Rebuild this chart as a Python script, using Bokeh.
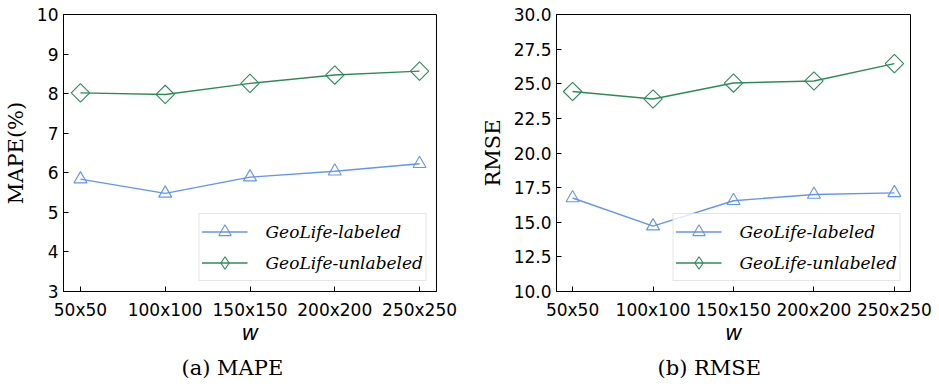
from bokeh.plotting import figure
from bokeh.models import Range1d, FixedTicker, PrintfTickFormatter, Legend, LegendItem, Title
from bokeh.layouts import row
from bokeh.embed import file_html
from bokeh.resources import INLINE
import math

categories = ["50x50", "100x100", "150x150", "200x200", "250x250"]
mape_labeled = [5.84, 5.48, 5.89, 6.04, 6.23]
mape_unlabeled = [8.02, 7.98, 8.26, 8.47, 8.57]
rmse_labeled = [16.75, 14.72, 16.55, 17.0, 17.12]
rmse_unlabeled = [24.44, 23.9, 25.05, 25.2, 26.45]
series_names = ["GeoLife-labeled", "GeoLife-unlabeled"]
mape_ticks = [3, 4, 5, 6, 7, 8, 9, 10]
rmse_ticks = [10.0, 12.5, 15.0, 17.5, 20.0, 22.5, 25.0, 27.5, 30.0]

BLUE = "#6495ED"
GREEN = "#2E8B57"
xs = list(range(len(categories)))


def make(frame_w, ylabel, yticks, lab, unlab, caption, mb_left, mb_right, cap_offset, fmt=None):
    p = figure(frame_width=frame_w, frame_height=277, output_backend="svg", toolbar_location=None,
               x_range=Range1d(-0.2, len(categories) - 0.8),
               y_range=Range1d(yticks[0], yticks[-1]),
               min_border_left=mb_left, min_border_right=mb_right,
               min_border_top=14, min_border_bottom=88)
    p.grid.visible = False
    p.outline_line_color = "black"
    p.outline_line_width = 1
    p.outline_line_alpha = 1
    p.background_fill_color = "white"
    p.border_fill_color = "white"

    for ax in (p.xaxis[0], p.yaxis[0]):
        ax.axis_line_color = "black"
        ax.major_tick_in = 5
        ax.major_tick_out = 0
        ax.minor_tick_in = 0
        ax.minor_tick_out = 0
        ax.major_tick_line_color = "black"
        ax.major_label_text_font = "DejaVu Sans"
        ax.major_label_text_font_size = "17px"
        ax.major_label_text_color = "black"
    p.xaxis.major_label_standoff = 8
    p.yaxis.major_label_standoff = 5

    p.xaxis.ticker = FixedTicker(ticks=xs)
    p.xaxis.major_label_overrides = {i: c for i, c in enumerate(categories)}
    p.xaxis.axis_label = "w"
    p.xaxis.axis_label_text_font = "DejaVu Sans"
    p.xaxis.axis_label_text_font_style = "italic"
    p.xaxis.axis_label_text_font_size = "21px"
    p.xaxis.axis_label_standoff = -2
    p.xaxis.axis_label_text_color = "black"

    p.yaxis.ticker = FixedTicker(ticks=yticks)
    if fmt:
        p.yaxis.formatter = PrintfTickFormatter(format=fmt)
    p.yaxis.axis_label = ylabel
    p.yaxis.axis_label_text_font = "DejaVu Serif"
    p.yaxis.axis_label_text_font_style = "normal"
    p.yaxis.axis_label_text_font_size = "21px"
    p.yaxis.axis_label_standoff = 6
    p.yaxis.axis_label_text_color = "black"

    l1 = p.line(xs, lab, line_color=BLUE, line_width=1.4)
    m1 = p.scatter(xs, lab, marker="triangle", size=13, fill_color=None,
                   line_color=BLUE, line_width=1.1)
    l2 = p.line(xs, unlab, line_color=GREEN, line_width=1.4)
    m2 = p.scatter(xs, unlab, marker="square", angle=math.pi / 4, size=13,
                   fill_color=None, line_color=GREEN, line_width=1.1)
    # legend-only handle: the legend never rotates markers, so use a diamond there
    m2_leg = p.scatter(xs, unlab, marker="diamond", size=13, fill_color=None,
                       line_color=GREEN, line_width=1.1, visible=False)

    legend = Legend(items=[LegendItem(label=series_names[0], renderers=[l1, m1]),
                           LegendItem(label=series_names[1], renderers=[l2, m2_leg])],
                    location="bottom_right")
    legend.margin = 10
    legend.padding = 2
    legend.spacing = -2
    legend.glyph_width = 46
    legend.glyph_height = 31
    legend.label_height = 20
    legend.label_standoff = 18
    legend.label_text_font = "DejaVu Serif"
    legend.label_text_font_style = "italic"
    legend.label_text_font_size = "17px"
    legend.label_text_color = "black"
    legend.border_line_color = "#cccccc"
    legend.border_line_width = 1
    legend.background_fill_color = "white"
    legend.background_fill_alpha = 0.8
    p.add_layout(legend, "center")

    t = Title(text=caption, align="left", text_font="DejaVu Serif",
              text_font_size="21px", text_font_style="normal", text_color="black",
              offset=cap_offset, standoff=13)
    p.add_layout(t, "below")
    return p


p1 = make(373, "MAPE(%)", mape_ticks, mape_labeled, mape_unlabeled, "(a) MAPE", 52, 41, 118)
p2 = make(354, "RMSE", rmse_ticks, rmse_labeled, rmse_unlabeled, "(b) RMSE", 78, 25, 101, "%.1f")

layout = row(p1, p2)
open("out.html", "w").write(file_html(layout, INLINE))
